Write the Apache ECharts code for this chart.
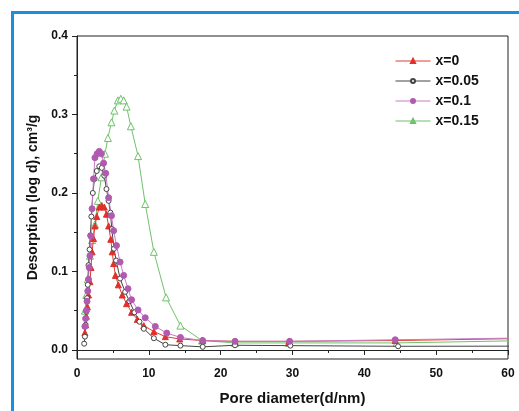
<!DOCTYPE html>
<html>
<head>
<meta charset="utf-8">
<script src="https://cdn.jsdelivr.net/npm/echarts@6/dist/echarts.min.js"></script>
<style>html,body{margin:0;padding:0;background:#fff}#c{width:519px;height:411px}</style>
</head>
<body>
<div id="c"></div>
<script>
const seriesNames = ['x=0', 'x=0.05', 'x=0.1', 'x=0.15'];
const xTickLabels = [0, 10, 20, 30, 40, 50, 60];
const yTickLabels = [0.0, 0.1, 0.2, 0.3, 0.4];
const yMinorTicks = [0.05, 0.15, 0.25, 0.35];

const dataX0 = [[1.1,0.022],[1.2,0.032],[1.3,0.043],[1.45,0.055],[1.6,0.07],[1.8,0.087],[1.95,0.105],[2.1,0.125],[2.3,0.142],[2.5,0.158],[2.75,0.17],[3.1,0.182],[3.45,0.184],[3.8,0.182],[4.1,0.173],[4.4,0.158],[4.7,0.141],[4.9,0.125],[5.1,0.11],[5.35,0.095],[5.75,0.083],[6.3,0.07],[6.9,0.059],[7.6,0.048],[8.4,0.039],[9.3,0.031],[10.7,0.0235],[12.3,0.017],[14.3,0.014],[17.5,0.012],[22,0.011],[29.5,0.011],[44.3,0.012],[75,0.0165]];
const dataX005 = [[1.0,0.008],[1.1,0.017],[1.2,0.032],[1.3,0.049],[1.4,0.066],[1.5,0.083],[1.6,0.108],[1.75,0.128],[1.85,0.146],[2.0,0.17],[2.2,0.2],[2.45,0.218],[2.75,0.228],[3.1,0.234],[3.45,0.232],[3.8,0.222],[4.1,0.205],[4.4,0.19],[4.65,0.175],[4.85,0.154],[5.15,0.129],[5.45,0.114],[6.0,0.091],[6.7,0.074],[7.3,0.062],[8.0,0.048],[8.7,0.036],[9.3,0.027],[10.7,0.015],[12.3,0.0067],[14.4,0.0055],[17.5,0.004],[22,0.006],[29.7,0.0055],[44.7,0.0047],[75,0.005]];
const dataX01 = [[1.1,0.03],[1.2,0.04],[1.3,0.05],[1.4,0.062],[1.5,0.075],[1.6,0.09],[1.7,0.105],[1.8,0.12],[1.95,0.145],[2.1,0.18],[2.3,0.218],[2.5,0.245],[2.8,0.25],[3.1,0.253],[3.4,0.25],[3.7,0.238],[4.0,0.225],[4.4,0.194],[4.8,0.171],[5.1,0.152],[5.5,0.133],[6.0,0.112],[6.5,0.095],[7.1,0.078],[7.6,0.064],[8.5,0.051],[9.5,0.041],[10.9,0.03],[12.5,0.0215],[14.4,0.016],[17.5,0.012],[22,0.011],[29.6,0.011],[44.3,0.013],[75,0.017]];
const dataX015 = [[1.1,0.05],[1.3,0.07],[1.5,0.09],[1.8,0.12],[2.1,0.14],[2.5,0.16],[2.9,0.19],[3.4,0.22],[3.9,0.25],[4.3,0.27],[4.8,0.29],[5.2,0.305],[5.7,0.318],[6.1,0.32],[6.5,0.318],[6.9,0.31],[7.5,0.285],[8.5,0.247],[9.5,0.186],[10.7,0.125],[12.4,0.067],[14.4,0.031],[17.4,0.012],[22,0.009],[29.5,0.009],[44.5,0.009],[75,0.014]];

const font = 'Arial, "Liberation Sans", sans-serif';
const styles = [
  {line:'#e23a35', symbol:'triangle', fill:'#e0302a', border:'#e0302a', size:6},
  {line:'#444444', symbol:'circle', fill:'#ffffff', border:'#444444', size:5},
  {line:'#c47cc4', symbol:'circle', fill:'#b05ab0', border:'#b05ab0', size:6},
  {line:'#6fc26a', symbol:'triangle', fill:'#ffffff', border:'#6fc26a', size:7}
];
const allData = [dataX0, dataX005, dataX01, dataX015];

const chart = echarts.init(document.getElementById('c'), null, {renderer:'canvas'});
chart.setOption({
  animation: false,
  backgroundColor: '#ffffff',
  graphic: [{
    type: 'rect', left: 10, top: 10, shape: {width: 540, height: 440},
    style: {fill: 'none', stroke: '#1a8fdc', lineWidth: 3}, silent: true
  }],
  grid: {left: 77, right: 11, top: 36, bottom: 50, show: true, borderColor: '#222', borderWidth: 1, backgroundColor: 'transparent'},
  legend: {
    data: seriesNames, orient: 'vertical', left: 390, top: 49,
    itemWidth: 35, itemHeight: 5, itemGap: 6,
    lineStyle: {width: 1},
    textStyle: {fontFamily: font, fontWeight: 'bold', fontSize: 14, color: '#111'}
  },
  xAxis: {
    type: 'value', min: 0, max: 60, interval: 10,
    name: 'Pore diameter(d/nm)', nameLocation: 'middle', nameGap: 32,
    nameTextStyle: {fontFamily: font, fontWeight: 'bold', fontSize: 15, color: '#111'},
    axisLine: {lineStyle: {color: '#222', width: 1}},
    axisTick: {show: true, length: 5, lineStyle: {color: '#222'}},
    minorTick: {show: true, splitNumber: 2, length: 3, lineStyle: {color: '#222'}},
    splitLine: {show: false},
    axisLabel: {fontFamily: font, fontWeight: 'bold', fontSize: 12, color: '#111', margin: 9,
      customValues: xTickLabels}
  },
  yAxis: [{
    type: 'value', min: -0.0115, max: 0.4,
    name: 'Desorption (log d), cm³/g', nameLocation: 'middle', nameGap: 36,
    nameTextStyle: {fontFamily: font, fontWeight: 'bold', fontSize: 14, color: '#111'},
    axisLine: {show: true, lineStyle: {color: '#222', width: 1}},
    axisTick: {show: true, length: 5, lineStyle: {color: '#222'}, customValues: yTickLabels},
    splitLine: {show: false},
    axisLabel: {fontFamily: font, fontWeight: 'bold', fontSize: 12, color: '#111', margin: 9,
      customValues: yTickLabels, formatter: v => v.toFixed(1)}
  }, {
    type: 'value', min: -0.0115, max: 0.4, position: 'left',
    axisLine: {show: false},
    axisTick: {show: true, length: 3, lineStyle: {color: '#222'}, customValues: yMinorTicks},
    axisLabel: {show: false}, splitLine: {show: false}
  }],
  series: seriesNames.map((n, i) => ({
    name: n, type: 'line', data: allData[i], clip: true,
    symbol: styles[i].symbol, symbolSize: styles[i].size, showAllSymbol: true,
    lineStyle: {color: styles[i].line, width: 1},
    itemStyle: {color: styles[i].fill, borderColor: styles[i].border, borderWidth: 1},
    z: i === 3 ? 1 : 2
  }))
});
</script>
</body>
</html>
